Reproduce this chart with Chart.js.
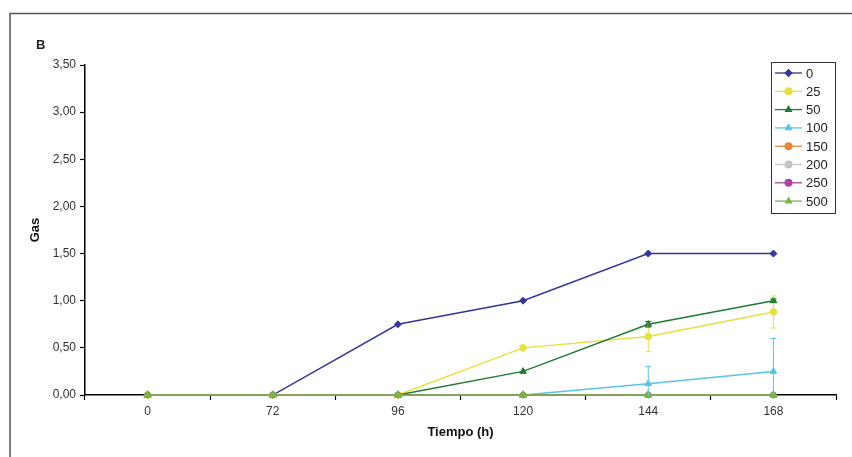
<!DOCTYPE html>
<html>
<head>
<meta charset="utf-8">
<script src="https://cdn.jsdelivr.net/npm/chart.js@4"></script>
<style>
  html, body { margin: 0; padding: 0; background: #fff; }
  #wrap { width: 852px; height: 457px; position: relative; }
</style>
</head>
<body>
<div id="wrap"><canvas id="myChart"></canvas></div>
<script>
// tiempo (h)
const hours = ["0", "72", "96", "120", "144", "168"];
const doses = ["0", "25", "50", "100", "150", "200", "250", "500"];

const gas0   = [0, 0, 0.75, 1.00, 1.50, 1.50];
const gas25  = [0, 0, 0, 0.50, 0.62, 0.88];
const gas50  = [0, 0, 0, 0.25, 0.75, 1.00];
const gas100 = [0, 0, 0, 0, 0.12, 0.25];
const gas150 = [0, 0, 0, 0, 0, 0];
const gas200 = [0, 0, 0, 0, 0, 0];
const gas250 = [0, 0, 0, 0, 0, 0];
const gas500 = [0, 0, 0, 0, 0, 0];

// desviacion (barras de error)
const err25  = [0, 0, 0, 0, 0.16, 0.17];
const err50  = [0, 0, 0, 0, 0.03, 0.02];
const err100 = [0, 0, 0, 0, 0.18, 0.35];

const yTicks = [0, 0.5, 1, 1.5, 2, 2.5, 3, 3.5];

const series = [gas0, gas25, gas50, gas100, gas150, gas200, gas250, gas500];
const errors = [null, err25, err50, err100, null, null, null, null];
const colors = ["#35359a", "#e8e040", "#1f7a34", "#55c6e6", "#ee8436", "#c4c4c4", "#a845a6", "#7ab646"];
const markers = ["rectRot", "circle", "triangle", "triangle", "circle", "circle", "circle", "triangle"];
const sizes = [3.5, 3.4, 3.8, 3.8, 2.8, 2.8, 2.8, 4.4];

const datasets = series.map(function (data, i) {
  return {
    label: doses[i],
    data: data,
    errors: errors[i],
    borderColor: colors[i],
    backgroundColor: colors[i],
    borderWidth: 1.4,
    pointStyle: markers[i],
    pointRadius: sizes[i],
    pointBorderWidth: 1,
    tension: 0,
    clip: false,
    // la ultima serie se dibuja encima, como en Excel
    order: series.length - i,
  };
});

const errorBars = {
  id: "errorBars",
  afterDatasetsDraw(chart) {
    const c = chart.ctx;
    const y = chart.scales.y;
    chart.data.datasets.forEach(function (ds, i) {
      if (!ds.errors) return;
      const meta = chart.getDatasetMeta(i);
      c.save();
      c.strokeStyle = ds.borderColor;
      c.lineWidth = 1;
      ds.data.forEach(function (v, j) {
        const e = ds.errors[j];
        if (!e) return;
        const px = meta.data[j].x;
        const top = y.getPixelForValue(v + e);
        const bot = y.getPixelForValue(Math.max(0, v - e));
        c.beginPath();
        c.moveTo(px, top); c.lineTo(px, bot);
        c.moveTo(px - 3, top); c.lineTo(px + 3, top);
        if (v - e > 0) { c.moveTo(px - 3, bot); c.lineTo(px + 3, bot); }
        c.stroke();
      });
      c.restore();
    });
  }
};

const frame = {
  id: "frame",
  afterDraw(chart) {
    const c = chart.ctx;
    c.save();
    // marco de la figura
    c.strokeStyle = "#555";
    c.lineWidth = 1.5;
    c.beginPath();
    c.moveTo(10, 457); c.lineTo(10, 13.5); c.lineTo(852, 13.5);
    c.stroke();
    c.fillStyle = "#222";
    c.font = "bold 13px 'Liberation Sans', Arial, sans-serif";
    c.textBaseline = "middle";
    c.fillText("B", 36, 45);

    // leyenda
    const x0 = 771, y0 = 62, w = 64, h = 151;
    c.fillStyle = "#fff";
    c.fillRect(x0, y0, w, h);
    c.strokeStyle = "#333";
    c.lineWidth = 1;
    c.strokeRect(x0 + 0.5, y0 + 0.5, w, h);
    c.font = "13px 'Liberation Sans', Arial, sans-serif";
    chart.data.datasets.forEach(function (ds, i) {
      const ly = y0 + 11 + i * 18.3;
      c.strokeStyle = ds.borderColor;
      c.lineWidth = 1.3;
      c.beginPath();
      c.moveTo(x0 + 4, ly); c.lineTo(x0 + 31, ly);
      c.stroke();
      Chart.helpers.drawPoint(c, { pointStyle: ds.pointStyle, radius: 3.3, borderWidth: 1 }, x0 + 17.5, ly);
      c.fillStyle = ds.backgroundColor;
      c.fill();
      c.fillStyle = "#222";
      c.fillText(ds.label, x0 + 35, ly + 1);
    });
    c.restore();
  }
};

const ctx = document.getElementById("myChart");
new Chart(ctx, {
  type: "line",
  data: { labels: hours, datasets: datasets },
  plugins: [errorBars, frame],
  options: {
    responsive: true,
    maintainAspectRatio: false,
    animation: false,
    layout: { padding: { left: 28, top: 65, right: 16, bottom: 12 } },
    plugins: { legend: { display: false }, tooltip: { enabled: false } },
    scales: {
      x: {
        type: "category",
        offset: true,
        afterFit: function (s) { s.height = 50; },
        grid: { offset: true, drawOnChartArea: false, tickLength: 5, color: "#000", tickWidth: 1.2 },
        border: { color: "#000", width: 1.5 },
        ticks: { color: "#333", padding: 4, font: { size: 12, family: "'Liberation Sans', Arial" } },
        title: { display: true, text: "Tiempo (h)", color: "#111", padding: { top: 2, bottom: 5 },
                 font: { size: 13, weight: "bold", family: "'Liberation Sans', Arial" } },
      },
      y: {
        min: 0,
        max: 3.5,
        afterFit: function (s) { s.width = 57; },
        afterBuildTicks: function (s) { s.ticks = yTicks.map(function (v) { return { value: v }; }); },
        grid: { drawOnChartArea: false, tickLength: 5, color: "#000", tickWidth: 1.2 },
        border: { color: "#000", width: 1.5 },
        ticks: {
          color: "#333", padding: 4,
          font: { size: 12, family: "'Liberation Sans', Arial" },
          callback: function (v) { return Number(v).toFixed(2).replace(".", ","); },
        },
        title: { display: true, text: "Gas", color: "#111", padding: 0,
                 font: { size: 13, weight: "bold", family: "'Liberation Sans', Arial" } },
      },
    },
  },
});
</script>
</body>
</html>
